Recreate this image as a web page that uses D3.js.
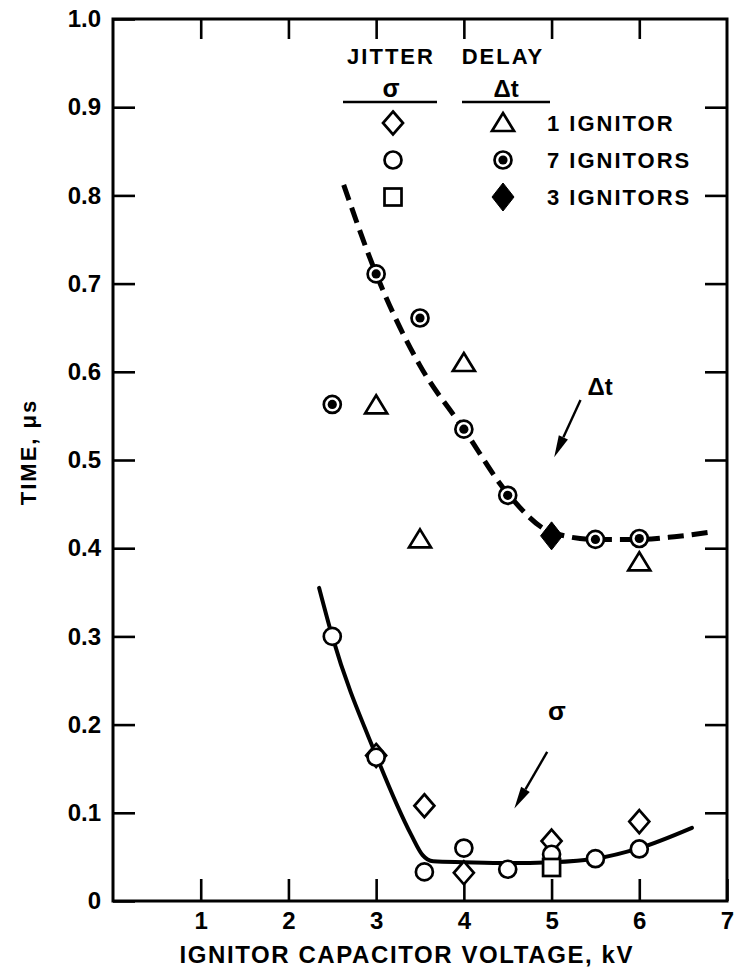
<!DOCTYPE html>
<html>
<head>
<meta charset="utf-8">
<script src="https://cdn.jsdelivr.net/npm/d3@7"></script>
<style>
  body { margin: 0; background: #fff; }
  text { font-family: "Liberation Sans", Arial, sans-serif; font-weight: bold; fill: #000; }
</style>
</head>
<body>
<svg id="chart" width="735" height="972"></svg>
<script>
// tick values
const xTicks = [1, 2, 3, 4, 5, 6, 7];
const yTicks = [0, 0.1, 0.2, 0.3, 0.4, 0.5, 0.6, 0.7, 0.8, 0.9, 1.0];
const yTickLabels = ["0", "0.1", "0.2", "0.3", "0.4", "0.5", "0.6", "0.7", "0.8", "0.9", "1.0"];

// delay (dt), 7 ignitors
const delay7V = [2.5, 3.0, 3.5, 4.0, 4.5, 5.5, 6.0];
const delay7T = [0.563, 0.711, 0.661, 0.535, 0.46, 0.41, 0.411];
// delay, 1 ignitor
const delay1V = [3.0, 3.5, 4.0, 6.0];
const delay1T = [0.562, 0.41, 0.61, 0.384];
// delay, 3 ignitors
const delay3V = [5.0];
const delay3T = [0.414];

// jitter (sigma), 1 ignitor
const jitter1V = [3.0, 3.55, 4.0, 5.0, 6.0];
const jitter1T = [0.165, 0.108, 0.032, 0.068, 0.09];
// jitter, 7 ignitors
const jitter7V = [2.5, 3.0, 3.55, 4.0, 4.5, 5.0, 5.5, 6.0];
const jitter7T = [0.30, 0.163, 0.033, 0.06, 0.036, 0.053, 0.048, 0.059];
// jitter, 3 ignitors
const jitter3V = [5.0];
const jitter3T = [0.038];

// hand drawn fit curves
const delayCurveV = [2.63, 3.0, 3.5, 4.0, 4.5, 5.0, 5.5, 6.0, 6.4, 6.8];
const delayCurveT = [0.812, 0.711, 0.607, 0.535, 0.462, 0.418, 0.41, 0.41, 0.413, 0.418];
const jitterCurveV = [2.35, 2.5, 3.0, 3.4, 3.53, 3.65, 4.0, 4.5, 5.0, 5.5, 6.0, 6.6];
const jitterCurveT = [0.355, 0.30, 0.165, 0.075, 0.052, 0.045, 0.044, 0.043, 0.044, 0.048, 0.06, 0.083];

const svg = d3.select("#chart");

const x = d3.scaleLinear().domain([0, 7]).range([113, 727]);
const y = d3.scaleLinear().domain([0, 1]).range([901, 19]);

// frame
svg.append("rect")
    .attr("x", x(0)).attr("y", y(1))
    .attr("width", x(7) - x(0)).attr("height", y(0) - y(1))
    .attr("fill", "none").attr("stroke", "#000").attr("stroke-width", 3);

const styleAxis = g => {
    g.select(".domain").remove();
    g.selectAll(".tick line").attr("stroke", "#000").attr("stroke-width", 2.6);
    g.selectAll("text").attr("font-size", 24).attr("fill", "#000")
        .attr("font-family", "'Liberation Sans', Arial, sans-serif").attr("font-weight", "bold");
};

svg.append("g").attr("transform", `translate(0,${y(0)})`)
    .call(d3.axisBottom(x).tickValues(xTicks).tickSizeInner(-22).tickSizeOuter(0).tickPadding(11)
        .tickFormat(d3.format("d")))
    .call(styleAxis);
svg.append("g").attr("transform", `translate(${x(0)},0)`)
    .call(d3.axisLeft(y).tickValues(yTicks).tickSizeInner(-22).tickSizeOuter(0).tickPadding(12)
        .tickFormat((d, i) => yTickLabels[i]))
    .call(styleAxis);
svg.append("g").attr("transform", `translate(0,${y(1)})`)
    .call(d3.axisTop(x).tickValues(xTicks.slice(0, 6)).tickSizeInner(-20).tickSizeOuter(0).tickFormat(""))
    .call(styleAxis);
svg.append("g").attr("transform", `translate(${x(7)},0)`)
    .call(d3.axisRight(y).tickValues(yTicks.slice(1, 10)).tickSizeInner(-22).tickSizeOuter(0).tickFormat(""))
    .call(styleAxis);

// axis titles
svg.append("text")
    .attr("x", 406).attr("y", 963)
    .attr("text-anchor", "middle")
    .attr("font-size", 24)
    .attr("textLength", 453).attr("lengthAdjust", "spacing")
    .text("IGNITOR CAPACITOR VOLTAGE, kV");
svg.append("text")
    .attr("transform", "translate(36,452) rotate(-90)")
    .attr("text-anchor", "middle")
    .attr("font-size", 22)
    .attr("letter-spacing", 2)
    .text("TIME, \u03bcs");

// curves
const line = d3.line().curve(d3.curveMonotoneX).x(d => x(d[0])).y(d => y(d[1]));
svg.append("path")
    .datum(delayCurveV.map((v, i) => [v, delayCurveT[i]]))
    .attr("d", line)
    .attr("fill", "none").attr("stroke", "#000").attr("stroke-width", 5)
    .attr("stroke-dasharray", "16,8");
svg.append("path")
    .datum(jitterCurveV.map((v, i) => [v, jitterCurveT[i]]))
    .attr("d", line)
    .attr("fill", "none").attr("stroke", "#000").attr("stroke-width", 4)
    .attr("stroke-linecap", "round");

// markers
function marker(g, type, px, py) {
    const sw = 2.7;
    if (type === "circle") {
        g.append("circle").attr("cx", px).attr("cy", py).attr("r", 8.5)
            .attr("fill", "#fff").attr("stroke", "#000").attr("stroke-width", sw);
    } else if (type === "dot") {
        g.append("circle").attr("cx", px).attr("cy", py).attr("r", 8.5)
            .attr("fill", "#fff").attr("stroke", "#000").attr("stroke-width", sw);
        g.append("circle").attr("cx", px).attr("cy", py).attr("r", 4.6).attr("fill", "#000");
    } else if (type === "tri") {
        g.append("path").attr("d", `M${px},${py - 10}L${px + 11},${py + 8}L${px - 11},${py + 8}Z`)
            .attr("fill", "#fff").attr("stroke", "#000").attr("stroke-width", sw);
    } else if (type === "diamond") {
        g.append("path").attr("d", `M${px},${py - 11.5}L${px + 10},${py}L${px},${py + 11.5}L${px - 10},${py}Z`)
            .attr("fill", "#fff").attr("stroke", "#000").attr("stroke-width", sw);
    } else if (type === "fdiamond") {
        g.append("path").attr("d", `M${px},${py - 14}L${px + 11},${py}L${px},${py + 14}L${px - 11},${py}Z`)
            .attr("fill", "#000").attr("stroke", "#000").attr("stroke-width", 1);
    } else if (type === "square") {
        g.append("rect").attr("x", px - 8.5).attr("y", py - 8.5).attr("width", 17).attr("height", 17)
            .attr("fill", "#fff").attr("stroke", "#000").attr("stroke-width", sw);
    }
}

const pts = svg.append("g");
const series = [
    ["diamond", jitter1V, jitter1T],
    ["circle", jitter7V, jitter7T],
    ["square", jitter3V, jitter3T],
    ["tri", delay1V, delay1T],
    ["dot", delay7V, delay7T],
    ["fdiamond", delay3V, delay3T]
];
series.forEach(([type, vs, ts]) => {
    vs.forEach((v, i) => marker(pts, type, x(v), y(ts[i])));
});

// arrows
function arrow(x1, y1, x2, y2) {
    const a = Math.atan2(y2 - y1, x2 - x1);
    const len = 22, w = 5;
    const bx = x2 - len * Math.cos(a), by = y2 - len * Math.sin(a);
    svg.append("line").attr("x1", x1).attr("y1", y1).attr("x2", bx).attr("y2", by)
        .attr("stroke", "#000").attr("stroke-width", 2.4);
    svg.append("path")
        .attr("d", `M${x2},${y2}L${bx + w * Math.sin(a)},${by - w * Math.cos(a)}L${bx - w * Math.sin(a)},${by + w * Math.cos(a)}Z`)
        .attr("fill", "#000");
}
arrow(x(5.33), y(0.568), x(5.03), y(0.503));
svg.append("text").attr("x", x(5.41)).attr("y", y(0.574)).attr("font-size", 24).text("\u0394t");
arrow(x(4.95), y(0.169), x(4.576), y(0.105));
svg.append("text").attr("x", x(5.06)).attr("y", y(0.205)).attr("text-anchor", "middle")
    .attr("font-size", 26).text("\u03c3");

// legend
const leg = svg.append("g");
leg.append("text").attr("x", 391).attr("y", 64).attr("text-anchor", "middle")
    .attr("font-size", 22).attr("letter-spacing", 2).text("JITTER");
leg.append("text").attr("x", 503).attr("y", 64).attr("text-anchor", "middle")
    .attr("font-size", 22).attr("letter-spacing", 2).text("DELAY");
leg.append("text").attr("x", 391).attr("y", 97).attr("text-anchor", "middle")
    .attr("font-size", 25).text("\u03c3");
leg.append("text").attr("x", 506).attr("y", 97).attr("text-anchor", "middle")
    .attr("font-size", 24).text("\u0394t");
leg.append("line").attr("x1", 343).attr("x2", 437).attr("y1", 102).attr("y2", 102)
    .attr("stroke", "#000").attr("stroke-width", 2.4);
leg.append("line").attr("x1", 462).attr("x2", 550).attr("y1", 102).attr("y2", 102)
    .attr("stroke", "#000").attr("stroke-width", 2.4);

const legendRows = [
    ["diamond", "tri", "1 IGNITOR"],
    ["circle", "dot", "7 IGNITORS"],
    ["square", "fdiamond", "3 IGNITORS"]
];
legendRows.forEach(([s1, s2, label], i) => {
    const ry = 123 + i * 37;
    marker(leg, s1, 393, ry);
    marker(leg, s2, 503, ry);
    leg.append("text").attr("x", 547).attr("y", ry + 8)
        .attr("font-size", 22).attr("letter-spacing", 2).text(label);
});
</script>
</body>
</html>
